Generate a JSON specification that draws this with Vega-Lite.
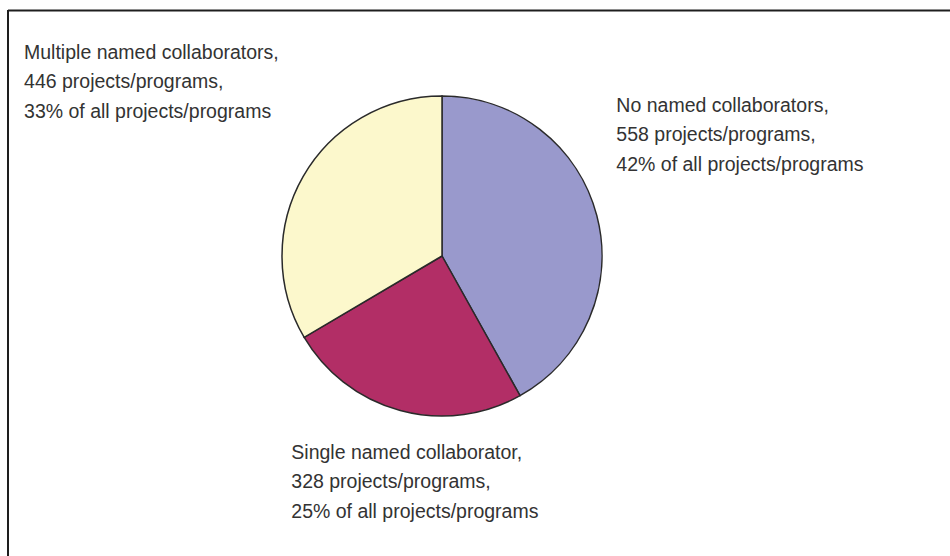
{
  "$schema": "https://vega.github.io/schema/vega-lite/v6.json",
  "width": 950,
  "height": 556,
  "autosize": {"type": "fit", "contains": "padding"},
  "padding": {"left": 7, "top": 9, "right": 73, "bottom": 49},
  "background": "white",
  "config": {"view": {"stroke": null}},
  "data": {
    "values": [
      {"category": "No named collaborators", "projects": 558, "k": 1, "label": "No named collaborators,\n558 projects/programs,\n42% of all projects/programs"},
      {"category": "Single named collaborator", "projects": 328, "k": 2, "label": "Single named collaborator,\n328 projects/programs,\n25% of all projects/programs"},
      {"category": "Multiple named collaborators", "projects": 446, "k": 3, "label": "Multiple named collaborators,\n446 projects/programs,\n33% of all projects/programs"}
    ]
  },
  "layer": [
    {
      "mark": {"type": "arc", "outerRadius": 160, "stroke": "#2a2a2a", "strokeWidth": 1.5},
      "encoding": {
        "theta": {"field": "projects", "type": "quantitative", "stack": true},
        "order": {"field": "k", "type": "quantitative"},
        "color": {
          "field": "category",
          "type": "nominal",
          "scale": {
            "domain": ["No named collaborators", "Single named collaborator", "Multiple named collaborators"],
            "range": ["#9999cc", "#b22e66", "#fcf8cc"]
          },
          "legend": null
        }
      }
    },
    {
      "mark": {"type": "text", "radius": 175, "align": "left", "baseline": "alphabetic", "dx": 5, "dy": -100, "font": "Liberation Sans", "fontSize": 19.5, "lineHeight": 29.5, "lineBreak": "\n", "fill": "#333333"},
      "encoding": {
        "theta": {"field": "projects", "type": "quantitative", "stack": true},
        "order": {"field": "k", "type": "quantitative"},
        "text": {"condition": {"test": "datum.category === 'No named collaborators'", "field": "label"}, "value": ""}
      }
    },
    {
      "mark": {"type": "text", "radius": 175, "align": "left", "baseline": "alphabetic", "dx": -105, "dy": 34, "font": "Liberation Sans", "fontSize": 19.5, "lineHeight": 29.5, "lineBreak": "\n", "fill": "#333333"},
      "encoding": {
        "theta": {"field": "projects", "type": "quantitative", "stack": true},
        "order": {"field": "k", "type": "quantitative"},
        "text": {"condition": {"test": "datum.category === 'Single named collaborator'", "field": "label"}, "value": ""}
      }
    },
    {
      "mark": {"type": "text", "radius": 175, "align": "left", "baseline": "alphabetic", "dx": -266, "dy": -110.5, "font": "Liberation Sans", "fontSize": 19.5, "lineHeight": 29.5, "lineBreak": "\n", "fill": "#333333"},
      "encoding": {
        "theta": {"field": "projects", "type": "quantitative", "stack": true},
        "order": {"field": "k", "type": "quantitative"},
        "text": {"condition": {"test": "datum.category === 'Multiple named collaborators'", "field": "label"}, "value": ""}
      }
    },
    {
      "data": {"values": [{}]},
      "mark": {"type": "rule", "stroke": "#1e1e1e", "strokeWidth": 2},
      "encoding": {"x": {"value": 0}, "x2": {"value": 950}, "y": {"value": 0.5}}
    },
    {
      "data": {"values": [{}]},
      "mark": {"type": "rule", "stroke": "#1e1e1e", "strokeWidth": 2},
      "encoding": {"x": {"value": 0}, "y": {"value": 0}, "y2": {"value": 560}}
    }
  ]
}
